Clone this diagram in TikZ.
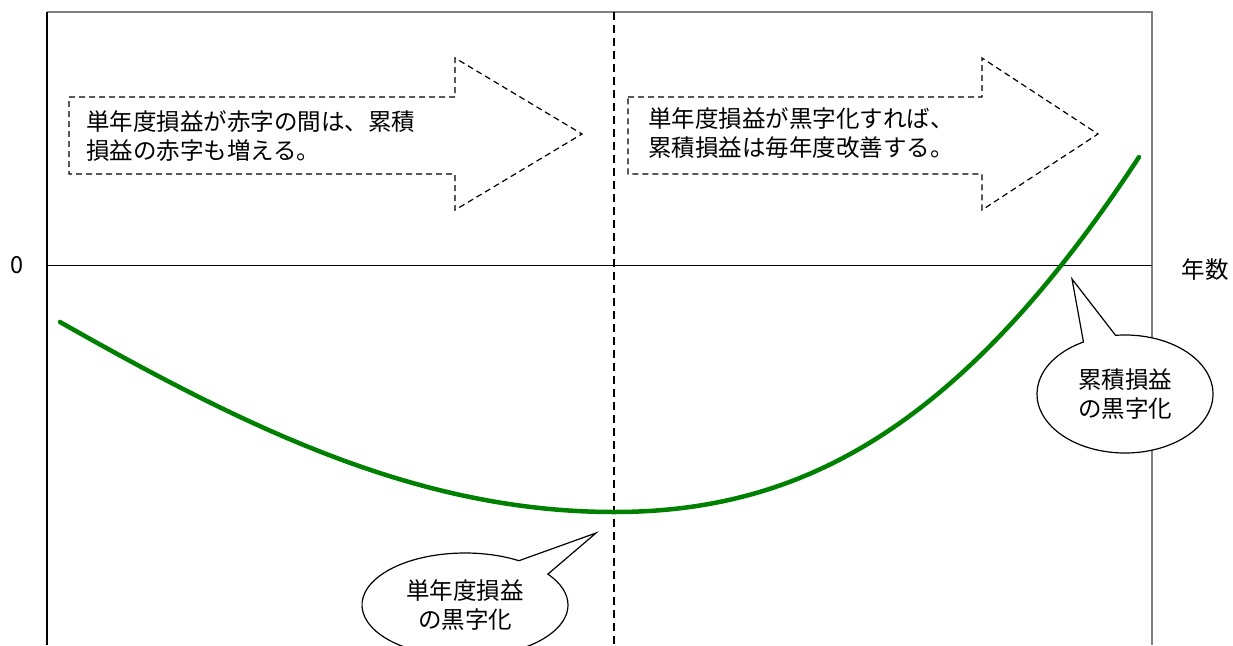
\documentclass[tikz,border=0pt]{standalone}
\usepackage{fontspec}
\setmainfont{Noto Sans CJK JP}
\usetikzlibrary{shapes.callouts}
\definecolor{curvegreen}{RGB}{0,128,0}
\definecolor{framegray}{RGB}{128,128,128}
\begin{document}
\begin{tikzpicture}[x=1pt,y=-1pt,
  txt/.style={font=\fontsize{23.5}{28.5}\selectfont, align=left, inner sep=0pt},
  lbl/.style={font=\fontsize{23.5}{28}\selectfont, inner sep=0pt},
  dasharrow/.style={draw=black, line width=1.2pt, dash pattern=on 6pt off 4pt},
  bubble/.style={ellipse callout, draw=black, line width=1.2pt, fill=white, inner sep=0pt,
    font=\fontsize{23.5}{29}\selectfont, align=center, callout pointer arc=22},
]
\useasboundingbox (0,0) rectangle (1233,645);
% frame
\draw[framegray, line width=1.2pt] (47,12) -- (1152,12) -- (1152,645);
\draw[black, line width=1.2pt] (47,12) -- (47,645);
% axis
\draw[black, line width=0.9pt] (47,265) -- (1152,265);
\node[lbl] (zero) at (17,265) {0};
\node[lbl] (nensu) at (1205,270) {年数};
% vertical dashed divider
\draw[black, line width=1.4pt, dash pattern=on 8pt off 5pt] (614,12) -- (614,645);
% left arrow
\draw[dasharrow] (69,97) -- (455,97) -- (455,58) -- (582,134) -- (455,210) -- (455,174) -- (69,174) -- cycle;
\node[txt, anchor=west] (lefttext) at (86,136) {単年度損益が赤字の間は、累積\\損益の赤字も増える。};
% right arrow
\draw[dasharrow] (628,97) -- (982,97) -- (982,58) -- (1098,134) -- (982,210) -- (982,174) -- (628,174) -- cycle;
\node[txt, anchor=west] (righttext) at (648,133) {単年度損益が黒字化すれば、\\累積損益は毎年度改善する。};
% curve
\draw[curvegreen, line width=4.5pt, line cap=round] (60,322)
  .. controls (250,430) and (420,512) .. (614,512)
  .. controls (800,512) and (960,430) .. (1139,157);
% callouts
\node[bubble, minimum width=206pt, minimum height=104pt, callout absolute pointer={(596,533)}] (c1) at (465,605) {単年度損益\\の黒字化};
\node[bubble, minimum width=176pt, minimum height=118pt, callout absolute pointer={(1072,279)}] (c2) at (1125,394) {累積損益\\の黒字化};
\end{tikzpicture}
\end{document}
